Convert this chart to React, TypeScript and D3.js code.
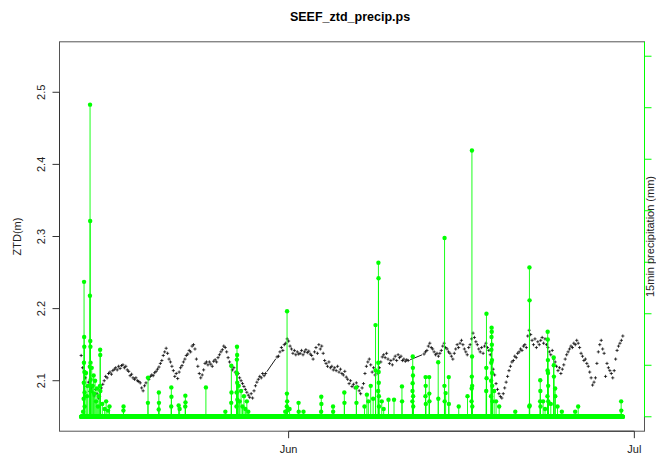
import React from "react";
import * as d3 from "d3";

// ---- data ---------------------------------------------------------------
const TITLE = "SEEF_ztd_precip.ps";
const YEAR = "2010";
const ZTD_START = "05-14 00:00";
const ZTD_STEP_HOURS = 3;
const ZTD_LIMITS = [2.05, 2.55];
const PRECIP_LIMITS = [0, 7];
const PRECIP_START = "05-14 00:00";
const PRECIP_END = "06-30 00:00";
const PRECIP_STEP_MIN = 15;

// zenith total delay (m), one value every 3 hours; null = no solution
const ZTD_M: (number | null)[] = [
  2.135, 2.118, 2.126, 2.104, 2.092, 2.098, 2.085, 2.090, // May 14
  2.084, 2.079, 2.088, 2.082, 2.076, 2.086, 2.090, 2.095,
  2.100, 2.106, 2.104, 2.110, 2.112, 2.109, 2.114, 2.116,
  2.118, 2.115, 2.120, 2.117, 2.121, 2.122, 2.118, 2.120,
  2.115, 2.113, 2.107, 2.109, 2.104, 2.102, 2.104, 2.100,
  2.099, 2.097, 2.090, 2.086, 2.093, 2.097, 2.104, 2.102,
  2.106, 2.108, 2.107, 2.111, 2.113, 2.116, 2.119, 2.124, // May 20
  2.128, 2.135, 2.140, 2.145, 2.138, 2.130, 2.126, 2.120,
  2.114, 2.106, 2.110, 2.103, 2.112, 2.118, 2.121, 2.126,
  2.130, 2.135, 2.137, 2.142, 2.140, 2.148, 2.150, 2.144,
  2.130, 2.120, 2.110, 2.104, 2.108, 2.115, 2.124, 2.126,
  2.122, 2.126, 2.123, 2.120, 2.127, 2.129, 2.126, 2.132, // May 25
  2.136, 2.140, 2.143, 2.148, 2.146, 2.140, 2.132, 2.126,
  2.120, 2.115, 2.118, 2.112, 2.108, 2.110, 2.104, 2.100,
  2.096, 2.092, 2.088, 2.084, 2.080, 2.077, 2.082, 2.076,
  2.086, 2.093, 2.098, 2.102, 2.106, 2.104, 2.110, 2.107,
  2.110, null, null, null, null, null, null, null, // May 30
  2.133, 2.134, 2.140, 2.146, 2.142, 2.150, 2.152, 2.158,
  2.155, 2.148, 2.144, 2.138, 2.142, 2.136, 2.140, 2.137, // Jun 1
  2.138, 2.142, 2.136, 2.140, 2.143, 2.139, 2.141, 2.137,
  2.135, 2.130, 2.140, 2.146, 2.138, 2.150, 2.144, 2.148,
  2.138, 2.128, 2.124, 2.120, 2.126, 2.118, 2.120, 2.115,
  2.118, 2.114, 2.120, 2.112, 2.116, 2.110, 2.108, 2.113, // Jun 5
  2.105, 2.102, 2.096, 2.100, 2.092, 2.095, 2.090, 2.097,
  2.092, 2.086, 2.082, 2.090, 2.096, 2.110, 2.120, 2.126,
  2.130, 2.122, 2.112, 2.118, 2.108, 2.114, 2.110, 2.118,
  2.126, 2.133, 2.136, 2.132, 2.138, 2.130, 2.124, 2.128,
  2.122, 2.130, 2.134, 2.128, 2.136, 2.132, 2.134, 2.128, // Jun 10
  2.130, 2.127, 2.129, 2.128, null, null, null, null,
  null, null, null, null, null, null, 2.137, 2.140,
  2.142, 2.148, 2.152, 2.146, 2.144, 2.140, 2.136, 2.138,
  2.134, 2.138, 2.142, 2.148, 2.152, 2.146, 2.144, 2.140,
  2.138, 2.134, 2.130, 2.138, 2.144, 2.150, 2.146, 2.152, // Jun 15
  2.156, 2.150, 2.144, 2.140, 2.136, 2.146, 2.150, 2.158,
  2.166, 2.160, 2.154, 2.150, 2.144, 2.140, 2.146, 2.138,
  2.148, 2.152, 2.146, 2.142, 2.136, 2.126, 2.116, 2.108,
  2.096, 2.088, 2.082, 2.078, 2.076, 2.082, 2.090, 2.098,
  2.106, 2.114, 2.120, 2.126, 2.128, 2.134, 2.132, 2.138, // Jun 20
  2.140, 2.144, 2.142, 2.148, 2.150, 2.146, 2.162, 2.170,
  2.164, 2.156, 2.150, 2.158, 2.146, 2.154, 2.150, 2.156,
  2.160, 2.152, 2.158, 2.150, 2.146, 2.140, 2.136, 2.142,
  2.130, 2.126, 2.120, 2.114, 2.118, 2.110, 2.116, 2.122,
  2.130, 2.136, 2.140, 2.144, 2.148, 2.146, 2.152, 2.150, // Jun 25
  2.156, 2.152, 2.146, 2.138, 2.134, 2.128, 2.130, 2.124,
  2.120, 2.112, 2.104, 2.094, 2.098, 2.104, 2.124, 2.140,
  2.150, 2.156, 2.144, 2.138, 2.106, 2.124, 2.118, 2.114,
  2.110, 2.104, 2.114, 2.130, 2.142, 2.148, 2.152, 2.156,
  2.162, // Jun 30
];

// 15-minute rain totals (mm); every other interval of the record is dry
const PRECIP_EVENTS: [string, number][] = [
  ["05-14 04:00", 0.1], ["05-14 05:15", 0.35], ["05-14 05:30", 0.66], ["05-14 05:45", 1.05],
  ["05-14 06:00", 2.62], ["05-14 06:15", 1.55], ["05-14 06:30", 1.36], ["05-14 06:45", 0.87],
  ["05-14 07:00", 0.47], ["05-14 07:15", 0.2], ["05-14 10:00", 0.85], ["05-14 12:00", 0.4],
  ["05-14 14:00", 0.6], ["05-14 18:00", 0.97], ["05-14 18:15", 2.35], ["05-14 18:30", 6.06],
  ["05-14 18:45", 3.8], ["05-14 19:00", 1.47], ["05-14 19:15", 1.36], ["05-14 19:30", 1.05],
  ["05-14 19:45", 0.72], ["05-14 20:00", 0.5], ["05-14 22:00", 0.95], ["05-15 00:00", 0.6],
  ["05-15 02:00", 0.8], ["05-15 03:00", 0.45], ["05-15 05:00", 0.7], ["05-15 07:00", 0.3],
  ["05-15 09:00", 0.55], ["05-15 11:00", 0.2], ["05-15 13:00", 0.4], ["05-15 15:15", 0.6],
  ["05-15 15:30", 1.3], ["05-15 15:45", 1.2], ["05-15 16:00", 0.5], ["05-15 20:00", 0.25],
  ["05-16 01:00", 0.15], ["05-16 04:00", 0.3], ["05-16 08:00", 0.12], ["05-16 11:00", 0.2],
  ["05-17 16:00", 0.12], ["05-17 16:15", 0.2],
  ["05-19 19:00", 0.27], ["05-19 19:15", 0.76],
  ["05-20 17:30", 0.14], ["05-20 17:45", 0.47], ["05-20 18:00", 0.27],
  ["05-21 19:30", 0.2], ["05-21 19:45", 0.57], ["05-21 20:00", 0.39],
  ["05-22 11:00", 0.22], ["05-22 13:00", 0.15],
  ["05-23 00:45", 0.2], ["05-23 01:00", 0.41], ["05-23 01:15", 0.28],
  ["05-24 19:45", 0.57],
  ["05-26 12:15", 0.1],
  ["05-27 00:30", 0.27], ["05-27 00:45", 0.99], ["05-27 01:00", 0.47],
  ["05-27 11:30", 0.2], ["05-27 11:45", 0.47], ["05-27 12:00", 0.85], ["05-27 12:15", 1.11],
  ["05-27 12:30", 1.36], ["05-27 12:45", 1.2], ["05-27 13:00", 0.66], ["05-27 13:15", 0.33],
  ["05-27 16:00", 0.6], ["05-27 18:00", 0.3], ["05-27 21:00", 0.5], ["05-28 00:00", 0.2],
  ["05-28 03:00", 0.4], ["05-28 06:00", 0.15], ["05-28 09:00", 0.3], ["05-28 12:00", 0.1],
  ["05-31 17:00", 0.1], ["05-31 20:15", 0.2], ["05-31 20:30", 0.45], ["05-31 20:45", 2.05],
  ["05-31 21:00", 0.3], ["05-31 21:15", 0.12], ["06-01 02:00", 0.15],
  ["06-01 20:45", 0.27], ["06-01 21:00", 0.1], ["06-02 07:00", 0.1],
  ["06-03 19:45", 0.1], ["06-03 20:00", 0.39], ["06-03 20:15", 0.25],
  ["06-04 20:30", 0.2], ["06-04 20:45", 0.1],
  ["06-05 20:00", 0.47], ["06-05 20:15", 0.27],
  ["06-06 21:00", 0.57], ["06-06 21:15", 0.27],
  ["06-07 14:00", 0.2], ["06-07 19:00", 0.43], ["06-07 22:00", 0.3], ["06-08 03:00", 0.6],
  ["06-08 08:00", 0.35], ["06-08 13:00", 1.78], ["06-08 13:15", 0.9],
  ["06-08 18:30", 0.5], ["06-08 18:45", 1.05], ["06-08 19:00", 2.99], ["06-08 19:15", 2.69],
  ["06-08 19:30", 0.87], ["06-08 19:45", 0.66], ["06-08 20:00", 0.4], ["06-08 20:15", 0.2],
  ["06-09 02:00", 0.3], ["06-09 06:00", 0.15], ["06-09 16:00", 0.33],
  ["06-10 03:30", 0.33], ["06-10 20:00", 0.59], ["06-10 20:15", 0.3],
  ["06-11 17:45", 0.3], ["06-11 18:00", 0.5], ["06-11 18:15", 0.65], ["06-11 18:30", 1.17],
  ["06-11 18:45", 0.95], ["06-11 19:00", 0.8], ["06-11 19:15", 0.4], ["06-11 19:30", 0.2],
  ["06-12 21:00", 0.4], ["06-12 21:15", 0.77], ["06-12 21:30", 0.6], ["06-12 21:45", 0.25],
  ["06-13 04:45", 0.77], ["06-13 05:00", 0.45], ["06-13 05:15", 0.3],
  ["06-13 23:30", 1.06], ["06-13 23:45", 0.35],
  ["06-14 12:30", 0.6], ["06-14 12:45", 3.47], ["06-14 13:00", 0.3], ["06-14 15:00", 0.46],
  ["06-14 21:30", 0.77], ["06-14 21:45", 0.25],
  ["06-15 18:15", 0.2], ["06-16 12:30", 0.4],
  ["06-16 21:00", 0.3], ["06-16 21:15", 0.55], ["06-16 21:30", 0.78], ["06-16 21:45", 5.17],
  ["06-16 22:00", 1.17], ["06-16 22:15", 0.6], ["06-16 22:30", 0.2],
  ["06-18 03:30", 0.5], ["06-18 03:45", 0.95], ["06-18 04:00", 2.0], ["06-18 04:15", 0.75],
  ["06-18 13:30", 0.4], ["06-18 13:45", 0.7], ["06-18 14:00", 1.05], ["06-18 14:15", 1.3],
  ["06-18 14:30", 1.55], ["06-18 14:45", 1.73], ["06-18 15:00", 1.65], ["06-18 15:15", 1.4],
  ["06-18 15:30", 1.1], ["06-18 15:45", 0.85], ["06-18 16:00", 0.6], ["06-18 16:15", 0.3],
  ["06-18 20:00", 0.5], ["06-19 00:00", 0.3], ["06-19 06:30", 0.2], ["06-20 16:00", 0.1],
  ["06-21 21:15", 0.2], ["06-21 21:30", 2.9], ["06-21 21:45", 2.26], ["06-21 22:00", 0.22],
  ["06-22 19:45", 0.3], ["06-22 20:00", 0.71], ["06-22 20:15", 0.5], ["06-22 20:30", 0.2],
  ["06-23 02:00", 0.3], ["06-23 06:00", 0.15],
  ["06-23 11:00", 0.4], ["06-23 11:15", 0.9], ["06-23 11:30", 1.65], ["06-23 11:45", 1.5],
  ["06-23 12:00", 1.1], ["06-23 12:15", 0.85], ["06-23 12:30", 0.6], ["06-23 12:45", 0.3],
  ["06-23 18:00", 0.25], ["06-24 00:00", 1.15], ["06-24 00:15", 1.0], ["06-24 00:30", 0.78],
  ["06-24 03:00", 0.55], ["06-24 03:15", 0.4], ["06-24 08:00", 0.2], ["06-24 17:00", 0.1],
  ["06-25 20:45", 0.1], ["06-26 03:00", 0.2],
  ["06-29 20:30", 0.3], ["06-29 20:45", 0.12],
];

const ZTD_TICKS = [2.1, 2.2, 2.3, 2.4, 2.5];
const PRECIP_TICKS = [0, 1, 2, 3, 4, 5, 6, 7];
const MONTH_TICKS: [string, string][] = [["Jun", "06-01 00:00"], ["Jul", "07-01 00:00"]];

// ---- helpers ------------------------------------------------------------
const parse = d3.timeParse("%Y-%m-%d %H:%M");
const at = (s: string) => parse(`${YEAR}-${s}`) as Date;
const padded = ([a, b]: number[]) => {
  const p = (b - a) * 0.04;
  return [a - p, b + p];
};

const FONT = "'Liberation Sans', Arial, Helvetica, sans-serif";
const GREEN = "#00ff00";

export default function App() {
  const W = 656;
  const H = 457;
  const left = 59.5;
  const right = 644.5;
  const top = 41.8;
  const bottom = 431.2;

  const t0 = at(ZTD_START);
  const ztd = ZTD_M.map((v, i) => ({
    t: new Date(+t0 + i * ZTD_STEP_HOURS * 3600e3),
    v,
  }));
  const tEnd = ztd[ztd.length - 1].t;

  const [xa, xb] = padded([+t0, +tEnd]);
  const x = d3.scaleTime().domain([new Date(xa), new Date(xb)]).range([left, right]);
  const y = d3.scaleLinear().domain(padded(ZTD_LIMITS)).range([bottom, top]);
  const yP = d3.scaleLinear().domain(padded(PRECIP_LIMITS)).range([bottom, top]);

  // precipitation record on a regular 15-minute grid
  const rain = new Map(PRECIP_EVENTS.map(([s, v]) => [+at(s), v]));
  const grid = d3.timeMinute
    .every(PRECIP_STEP_MIN)!
    .range(at(PRECIP_START), new Date(+at(PRECIP_END) + 1));
  const precip = grid.map((t) => ({ t, v: rain.get(+t) ?? 0 }));

  // points joined by a line only where the record has a hole (type "b" look)
  const valid = ztd.filter((d) => d.v != null) as { t: Date; v: number }[];
  const gapLines: { x1: number; y1: number; x2: number; y2: number }[] = [];
  for (let i = 1; i < valid.length; i++) {
    const a = valid[i - 1];
    const b = valid[i];
    if (+b.t - +a.t > ZTD_STEP_HOURS * 3600e3 * 1.5) {
      const ax = x(a.t), ay = y(a.v), bx = x(b.t), by = y(b.v);
      const len = Math.hypot(bx - ax, by - ay);
      const g = 2.2;
      const ux = (bx - ax) / len, uy = (by - ay) / len;
      gapLines.push({ x1: ax + ux * g, y1: ay + uy * g, x2: bx - ux * g, y2: by - uy * g });
    }
  }

  const base = yP(0);
  const cross = "M-1.6,0H1.6M0,-1.6V1.6";

  return (
    <svg
      width={W}
      height={H}
      style={{ position: "absolute", left: 0, top: 0, background: "#fff" }}
      fontFamily={FONT}
    >
      <rect width={W} height={H} fill="#fff" />

      <text x={(left + right) / 2 - 2} y={21} textAnchor="middle" fontSize={12.5} fontWeight="bold" fill="#000">
        {TITLE}
      </text>

      {/* ZTD points */}
      <g stroke="#000" strokeWidth={0.75}>
        {valid.map((d, i) => (
          <path key={i} d={cross} transform={`translate(${x(d.t)},${y(d.v)})`} />
        ))}
        {gapLines.map((l, i) => (
          <line key={`g${i}`} {...l} strokeWidth={0.9} />
        ))}
      </g>

      {/* precipitation: vertical bars plus a dot for every interval */}
      <g stroke={GREEN} strokeWidth={0.9}>
        {precip
          .filter((d) => d.v > 0)
          .map((d, i) => (
            <line key={i} x1={x(d.t)} x2={x(d.t)} y1={base} y2={yP(d.v)} />
          ))}
      </g>
      <g fill={GREEN}>
        {precip.map((d, i) => (
          <circle key={i} cx={x(d.t)} cy={yP(d.v)} r={2.2} />
        ))}
      </g>

      {/* frame */}
      <rect x={left} y={top} width={right - left} height={bottom - top} fill="none" stroke="#555" strokeWidth={1} />

      {/* left axis */}
      <g stroke="#333" strokeWidth={1}>
        <line x1={left} x2={left} y1={y(ZTD_TICKS[0])} y2={y(ZTD_TICKS[ZTD_TICKS.length - 1])} />
        {ZTD_TICKS.map((t) => (
          <line key={t} x1={left - 7} x2={left} y1={y(t)} y2={y(t)} />
        ))}
      </g>
      {ZTD_TICKS.map((t) => (
        <text
          key={t}
          transform={`translate(45,${y(t)}) rotate(-90)`}
          textAnchor="middle"
          fontSize={11}
          fill="#222"
        >
          {d3.format(".1f")(t)}
        </text>
      ))}
      <text transform={`translate(21,${(top + bottom) / 2}) rotate(-90)`} textAnchor="middle" fontSize={11} fill="#222">
        ZTD(m)
      </text>

      {/* bottom axis */}
      <g stroke="#333" strokeWidth={1}>
        <line x1={x(at(MONTH_TICKS[0][1]))} x2={x(at(MONTH_TICKS[MONTH_TICKS.length - 1][1]))} y1={bottom} y2={bottom} />
        {MONTH_TICKS.map(([l, s]) => (
          <line key={l} x1={x(at(s))} x2={x(at(s))} y1={bottom} y2={bottom + 7} />
        ))}
      </g>
      {MONTH_TICKS.map(([l, s]) => (
        <text key={l} x={x(at(s))} y={453} textAnchor="middle" fontSize={11} fill="#222">
          {l}
        </text>
      ))}

      {/* right axis for precipitation */}
      <g stroke={GREEN} strokeWidth={1}>
        <line x1={right} x2={right} y1={top} y2={yP(0)} />
        {PRECIP_TICKS.map((t) => (
          <line key={t} x1={right} x2={right + 7} y1={yP(t)} y2={yP(t)} />
        ))}
      </g>
      <text
        transform={`translate(654,${(top + bottom) / 2}) rotate(-90)`}
        textAnchor="middle"
        fontSize={11}
        fill="#222"
      >
        15min precipitation (mm)
      </text>
    </svg>
  );
}
